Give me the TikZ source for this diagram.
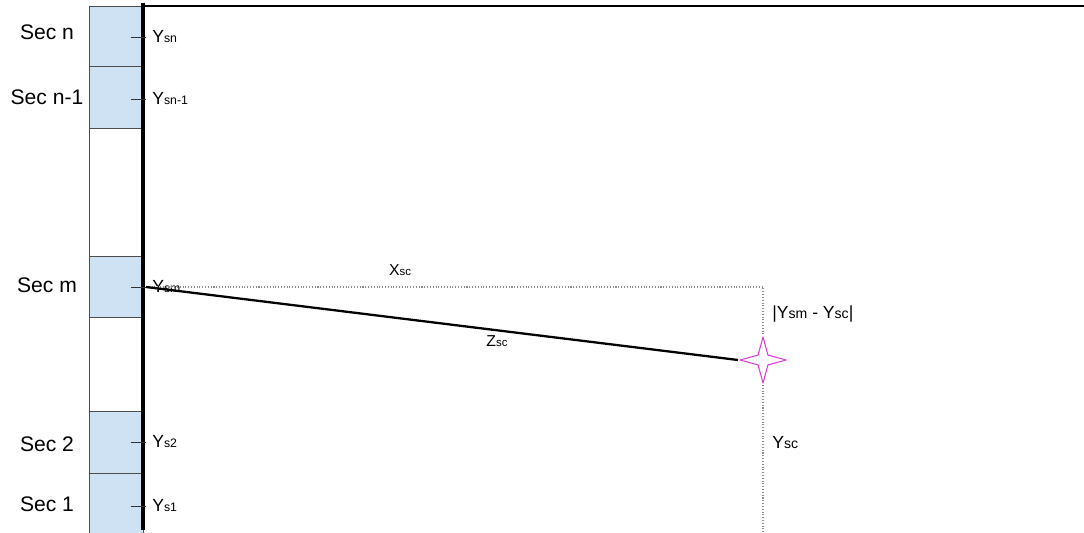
\documentclass[tikz,border=0pt]{standalone}
\usepackage{fontspec}
\setmainfont{Liberation Sans}
\usetikzlibrary{positioning,shapes.geometric}
\definecolor{secblue}{HTML}{CFE2F3}
\definecolor{starpink}{HTML}{D83FD8}
\newcommand{\lo}[2][7]{{\fontsize{#1}{#1}\selectfont #2}}
\begin{document}
\begin{tikzpicture}[x=0.02cm,y=-0.02cm,line join=round,font=\fontsize{10}{12}\selectfont]
    \tikzset{sec/.style={draw=black!70,fill=secblue,minimum width=1.08cm,inner sep=0},
        gap/.style={sec,fill=white},
        lab/.style={font=\fontsize{12}{14}\selectfont,inner sep=0},
        tick/.style={anchor=west,inner sep=0},
        dotline/.style={densely dotted,draw=black!45,line width=0.6pt}}
    \useasboundingbox (0,0) rectangle (1084,533);
    % section column
    \foreach \n/\t/\b/\s in {secn/6/66/sec,secnm/66/128/sec,gapa/128/256/gap,secm/256/317/sec,gapb/317/411/gap,sectwo/411/473/sec,secone/473/540/sec}{
        \node[\s,minimum height=(\b-\t)*0.02cm] (\n) at (116,{(\t+\b)/2}) {};}
    \foreach \n/\y/\t in {secn/32/Sec n,secnm/97/Sec n-1,secm/285/Sec m,sectwo/444/Sec 2,secone/504/Sec 1}{
        \node[lab] (l\n) at (47,\y) {\t};}
    \draw[line width=0.8pt] (143,6) coordinate (tl) -- (1084,6) coordinate (tr);
    \draw[line width=2.3pt] (143,3) coordinate (wtop) -- (143,530) coordinate (wbot);
    % ticks on the wall
    \foreach \n/\y/\t in {ysn/37/sn,ysnm/99/sn-1,ysm/287/sm,ystwo/442/s2,ysone/506/s1}{
        \draw[line width=0.5pt,black!80] (131,\y) -- (146,\y) coordinate (\n);
        \node[tick] (t\n) at (152,\y) {Y\lo{\t}};}
    % geometry
    \coordinate (corner) at (763,287);
    \coordinate (foot) at (763,540);
    \node[star,star points=4,star point ratio=3.3,minimum size=0.92cm,inner sep=0,draw=starpink,fill=white,line width=0.6pt] (sc) at (763,360) {};
    \draw[dotline] (ysm) -- (corner) -- (sc.north);
    \draw[dotline] (sc.south) -- (foot);
    \draw[line width=1.3pt] (ysm) -- (sc.west);
    \node (xsc) at (400,270) {\fontsize{9}{10}\selectfont X\lo[6.5]{sc}};
    \node (zsc) at (497,341) {\fontsize{9}{10}\selectfont Z\lo[6.5]{sc}};
    \node[tick] (dy) at (772,314) {|Y\lo[8]{sm} - Y\lo[8]{sc}|};
    \node[tick] (ysc) at (772,443) {Y\lo[8]{sc}};
\end{tikzpicture}
\end{document}
